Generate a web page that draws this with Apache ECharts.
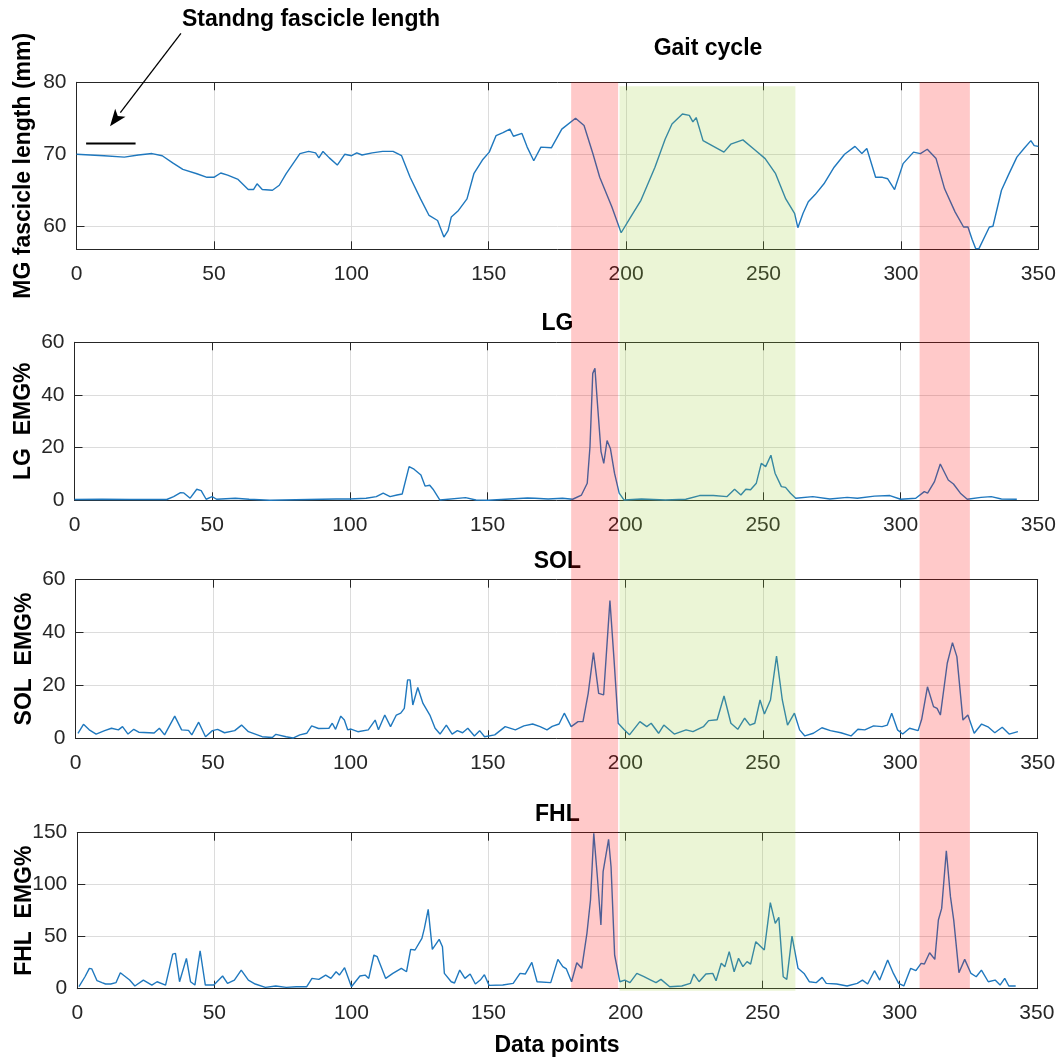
<!DOCTYPE html>
<html>
<head>
<meta charset="utf-8">
<script src="https://cdn.jsdelivr.net/npm/echarts@6/dist/echarts.min.js"></script>
<style>
html,body{margin:0;padding:0;background:#fff;}
#c{width:1061px;height:1059px;}
</style>
</head>
<body>
<div id="c"></div>
<script>
// ---------------- data ----------------
const xTicks = [0, 50, 100, 150, 200, 250, 300, 350];
const mgTicks = [60, 70, 80];
const lgTicks = [0, 20, 40, 60];
const solTicks = [0, 20, 40, 60];
const fhlTicks = [0, 50, 100, 150];

const panelTitles = ['Gait cycle', 'LG', 'SOL', 'FHL'];
const yNames = ['MG fascicle length (mm)', 'LG  EMG%', 'SOL  EMG%', 'FHL  EMG%'];
const xName = 'Data points';
const noteText = 'Standng fascicle length';

// standing fascicle length marker [x, y]
const standingLine = [[3.5, 71.5], [21.5, 71.5]];
// arrow from label to marker (data coords of panel 1)
const arrowTail = [38, 86.8];
const arrowTip = [12.2, 73.9];

// shaded phases [start, end] in data points
const redPhases = [[180, 197.1], [306.8, 325.1]];
const greenPhases = [[197.6, 261.6]];

const mg = [[0,70.0],[5,69.9],[10,69.8],[17.4,69.6],[22.5,69.9],[27.5,70.1],[31.2,69.8],[35,68.8],[38.7,67.9],[43.8,67.3],[47.5,66.8],[50,66.8],[52.5,67.4],[55,67.1],[58.8,66.5],[62.5,65.1],[64.4,65.1],[65.7,65.9],[67.6,65.1],[71.3,65.0],[73.8,65.7],[76.3,67.3],[78.8,68.7],[81.3,70.1],[84.5,70.4],[87,70.2],[88.2,69.5],[89.7,70.4],[92,69.5],[92.6,69.6],[94.9,68.5],[97.6,70.0],[100.1,69.8],[102,70.2],[103.9,69.9],[107.6,70.2],[111.4,70.4],[115.2,70.4],[118.3,69.8],[121.4,66.8],[125.2,63.8],[128.3,61.5],[131.4,60.8],[133.7,58.5],[135.2,59.4],[136.4,61.3],[139,62.2],[142.1,63.8],[144.6,67.3],[147.7,69.2],[150.2,70.3],[152.7,72.6],[155.2,73.0],[157.7,73.5],[159,72.5],[162.1,72.9],[164,71.0],[166.4,69.1],[169,71.0],[172.8,70.9],[176.6,73.5],[181.6,75.0],[184.7,74.0],[187.9,70.1],[190.4,66.8],[194.8,62.7],[198.2,59.1],[201.7,61.3],[205.4,63.6],[210.5,68.2],[214.2,72.1],[216.7,74.2],[220.5,75.6],[223,75.4],[224.3,74.5],[225.5,75.1],[228,71.9],[231.8,71.1],[235.6,70.3],[238.1,71.4],[242.5,72.0],[246.9,70.6],[250.6,69.4],[254.4,67.3],[258.1,63.8],[261.3,61.8],[262.5,59.8],[264.4,61.8],[266.3,63.4],[268.8,64.4],[272,65.9],[275.7,68.2],[279.5,70.0],[283.3,71.1],[285.8,70.1],[287.6,70.8],[290.8,66.8],[293.3,66.8],[295.2,66.6],[297.7,65.1],[300.8,68.7],[304.6,70.3],[307.1,70.1],[309.6,70.7],[312.8,69.4],[315.9,65.2],[319.7,62.0],[322.8,59.9],[324.4,59.9],[325.9,58.2],[327.2,56.9],[328.4,56.9],[332.2,59.9],[333.5,60.0],[336.6,65.0],[339.1,67.1],[342.2,69.6],[344.8,70.8],[347.3,71.9],[348.5,71.2],[350,71.1]];

const lg = [[0,0.3],[10,0.4],[20,0.3],[33.5,0.3],[36,1.4],[38.5,2.9],[39.7,2.8],[42,0.8],[44.4,4.2],[46,3.7],[47.8,0.4],[50,1.4],[51.6,0.4],[58.4,0.8],[63.4,0.4],[70.9,0],[85,0.3],[95,0.5],[100,0.5],[105.9,0.8],[109.6,1.4],[112.1,2.7],[114.6,1.4],[117.1,2],[119,2.4],[121.5,12.8],[123.3,11.8],[125.8,9.6],[127.3,5.4],[129,5.7],[130.2,4.2],[132.7,0.1],[142,1.0],[145.8,0.1],[150.2,0],[164.5,0.9],[167.2,0.8],[172,0.5],[177.2,0.8],[180.9,0.4],[184.1,2],[186.2,6.5],[187.2,20.4],[188.2,48.2],[189,50.1],[189.9,36.8],[191.2,18.5],[192.2,14],[193.4,22.7],[194.6,19.7],[196.1,10.3],[197.8,2.7],[199.6,0.1],[205.9,0.5],[214.6,0.1],[222,0.4],[227,1.8],[232,1.8],[237,1.4],[239.7,4.2],[242,2],[243.8,4.2],[245.5,4.0],[247.6,6.5],[249.4,14],[251,12.8],[252.9,17.1],[254.4,10.3],[256.7,5.2],[258.2,4.9],[260,2.7],[261.9,0.8],[268.1,1.4],[274.3,0.5],[280.6,1.1],[284.3,0.8],[290.5,1.6],[296.1,1.8],[300,0.4],[305.5,0.8],[308.6,3.3],[309.8,2.7],[312.3,7.1],[314.4,13.8],[317.3,7.7],[319.2,6.2],[321.7,2.7],[324.2,0.4],[329.2,1.1],[332.9,1.4],[336.6,0.5],[342.2,0.4]];

const sol = [[0.9,1.9],[2.9,5.3],[5,3.2],[7.5,1.6],[10.6,2.9],[13.1,3.8],[15.6,3.2],[17.1,4.4],[19.1,1.6],[21.2,3.4],[23,2.3],[26.8,2.1],[28.6,2.0],[30.5,3.8],[32.4,1.3],[36.1,8.4],[38.6,3.2],[41.1,3.0],[42.3,1.3],[44.8,6.1],[47.3,0.6],[49.8,2.9],[51.7,3.4],[54.2,2.1],[57.9,2.9],[60.4,5.0],[62.9,2.5],[67.9,0.6],[71.6,0.3],[72.9,1.5],[76.6,0.6],[79.1,0.1],[81.6,1.3],[84.1,1.9],[85.9,4.7],[88.4,3.7],[92.2,3.8],[93.4,5.7],[94.6,3.4],[96.5,8.4],[97.8,6.9],[99,3.2],[100.2,3.5],[102.7,2.5],[106.5,3.2],[109,6.9],[110.2,3.2],[112.5,8.8],[114.6,4.4],[116.7,8.8],[118.3,9.5],[119.6,11.3],[120.8,22.1],[121.7,22.1],[122.7,12.6],[124.5,19.2],[126.4,13.2],[128.9,8.8],[130.8,3.8],[132.6,1.6],[134.9,5.0],[137,1.6],[138.9,2.9],[140.8,2.1],[142.7,3.8],[145.1,0.9],[147,2.9],[148.8,0.6],[152.5,1.3],[156.3,4.4],[160,3.2],[163.1,4.7],[166.3,5.4],[169,4.4],[171.5,3.2],[173.4,4.5],[175.9,5.4],[177.8,9.5],[180.3,4.4],[182.8,6.3],[184.6,6.3],[186.5,17],[188.4,32.4],[190.3,17],[192.1,16.4],[194.4,52.1],[195.9,29.6],[197.4,5.7],[199.6,3.2],[201.5,1.3],[205.3,6.3],[207.8,4.4],[209.4,5.7],[212.1,1.9],[214,5.0],[217.8,1.6],[222.1,3.2],[224.6,2.5],[228.4,4.4],[230.3,6.7],[233.4,7.0],[235.9,16],[238.4,5.7],[240.9,3.4],[243.4,7.6],[245.3,5.0],[247.1,5.7],[249,14.5],[250.6,9.2],[252.8,14.5],[255,31.1],[257.1,14.5],[259,5.0],[261.5,9.5],[263.4,3.2],[265.3,0.9],[268.4,1.9],[271.5,4.0],[274.6,2.9],[278.4,2.1],[282.1,0.9],[284.6,3.4],[287.1,3.2],[290.3,4.7],[293.4,4.4],[295.3,5.0],[296.9,9.5],[299,3.2],[300.9,1.6],[303.4,3.8],[306.5,2.9],[307.8,7.2],[309.9,19.5],[312.1,12],[313.4,11.3],[314.6,8.8],[317.1,28.4],[319,36.2],[320.6,30.9],[322.8,6.9],[324.6,8.8],[326.9,1.9],[329.6,5.4],[332.1,4.2],[334.4,2.1],[337.1,4.2],[339.6,1.6],[342.8,2.5]];

const fhl = [[0.6,1.9],[2.8,11.5],[4.4,19.6],[5.3,19.0],[7.2,7.7],[9,5.8],[10.3,4.5],[12.2,4.5],[14.1,5.8],[15.7,15.4],[19.1,8.3],[21,2.6],[24.1,8.3],[27.2,3.5],[29.1,6.7],[32.2,3.5],[34.8,33.3],[35.8,34],[37.3,6.7],[39.8,29.2],[41.3,6.7],[42.9,3.5],[44.8,36.5],[46.7,3.5],[49.8,3.5],[53,12.2],[54.8,5.1],[57.3,8.3],[59.8,17.9],[62.4,8.3],[64.9,4.5],[68.6,1.3],[72.4,2.6],[76.2,1.3],[79.9,1.9],[83.7,1.9],[85.6,9.9],[88.1,9],[90.6,13.1],[92.5,9.9],[94.4,16.3],[95.6,13.1],[97.5,20.2],[100,1.9],[103.1,12.2],[105,13.1],[106.3,9.9],[108.2,32.4],[109.4,30.8],[112.5,9.9],[115.1,14.7],[118.2,19.6],[120.1,16.3],[121.6,37.8],[123.2,37.2],[125.7,48.4],[126.6,58],[128,76.3],[129.5,37.8],[132,47.4],[133.2,40.4],[133.9,14.7],[136.4,6.7],[137.6,5.5],[139.5,17.9],[141.4,9.9],[143.3,14.1],[145.2,4.5],[147,8.3],[148.5,13.5],[150.2,3.2],[155.2,3.5],[159,5.1],[161.5,14.7],[163.4,14.1],[165.8,25.3],[167.7,6.7],[172.7,5.8],[175.3,28.2],[177.1,21.2],[178.4,19.0],[180.3,6.7],[182.2,25],[184,19.6],[185.9,53.2],[187.2,85.3],[188.4,149.4],[189.7,107.7],[191,61.2],[191.8,112.5],[193.8,143.6],[194.7,117.3],[196,32.4],[197.9,6.7],[199.7,8.3],[201.6,5.8],[204.1,14.7],[206.7,11.5],[209.2,8.3],[211.1,5.8],[212.9,9],[216.1,1.9],[220.5,2.6],[223.6,5.1],[224.9,14.1],[226.8,6.7],[229.3,14.1],[231.8,14.7],[233,7.7],[234.9,24.4],[236.2,21.0],[237.8,35.6],[239.6,16.3],[241.2,29.2],[242.8,21.2],[244.3,26.0],[245.6,23.7],[247.5,45.2],[250.6,37.2],[252.8,82.7],[254.6,62.8],[255.9,68.6],[257.5,11.5],[258.8,9],[260.7,50.6],[262.9,19.6],[265.1,14.7],[267,6.7],[269.5,5.8],[271.7,10.9],[273.2,5.1],[277,4.5],[280.8,2.6],[284.5,5.1],[286.4,8.3],[288.3,4.5],[290.8,17.3],[292.7,8.3],[295.6,27.6],[297.7,14.7],[299.6,5.1],[301.5,2.6],[304,19.6],[305.9,17.3],[307.8,24.4],[309,23.8],[310.9,34.6],[312.8,28.2],[314.1,66],[315.3,77.2],[317,132.7],[318.5,88.5],[319.7,66],[321.6,15.4],[323.7,28.2],[326,14.7],[327.9,11.5],[329.8,17.9],[332.3,6.7],[334.8,8.3],[336.6,3.5],[338.3,9.9],[339.8,2.6],[342.3,2.6]];

const seriesData = [mg, lg, sol, fhl];
const yRanges = [[56.8, 80], [0, 60], [0, 60], [0, 150]];
const yTicksList = [mgTicks, lgTicks, solTicks, fhlTicks];

// ---------------- layout / style ----------------
const FONT = '"Liberation Sans", Arial, Helvetica, sans-serif';
const grids = [
  {left: 76.5, right: 22.7, top: 82.3, height: 167},
  {left: 74.5, right: 22.7, top: 342.3, height: 158},
  {left: 75.5, right: 23.3, top: 579.7, height: 158.6},
  {left: 77.3, right: 24.2, top: 832.7, height: 156}
];
const yNameGaps = [41, 39, 39, 41];
const axisColor = '#262626';
const gridColor = '#dcdcdc';
const lineColor = '#1f78be';

const xAxes = [], yAxes = [], series = [];
grids.forEach((g, i) => {
  const common = {
    type: 'value', gridIndex: i, min: xTicks[0], max: xTicks[xTicks.length - 1], interval: 50,
    axisLine: {show: true, onZero: false, lineStyle: {color: axisColor, width: 1}},
    axisTick: {show: true, inside: true, length: 8, lineStyle: {color: axisColor, width: 1}}
  };
  xAxes.push(Object.assign({}, common, {
    position: 'bottom',
    axisLabel: {show: true, margin: 14, color: axisColor, fontSize: 21, fontFamily: FONT},
    splitLine: {show: true, lineStyle: {color: gridColor, width: 1}},
    name: i === 3 ? xName : '', nameLocation: 'middle', nameGap: 45, nameMoveOverlap: false,
    nameTextStyle: {color: '#000', fontSize: 23, fontWeight: 'bold', fontFamily: FONT}
  }));
  xAxes.push(Object.assign({}, common, {
    position: 'top', axisLabel: {show: false}, splitLine: {show: false}
  }));
  const ticks = yTicksList[i];
  const ycommon = {
    type: 'value', gridIndex: i, min: yRanges[i][0], max: yRanges[i][1],
    axisLine: {show: true, onZero: false, lineStyle: {color: axisColor, width: 1}},
    axisTick: {show: true, inside: true, length: 8, customValues: ticks, lineStyle: {color: axisColor, width: 1}}
  };
  yAxes.push(Object.assign({}, ycommon, {
    position: 'left',
    axisLabel: {show: true, margin: 10, customValues: ticks, color: axisColor, fontSize: 21, fontFamily: FONT},
    splitLine: {show: true, lineStyle: {color: gridColor, width: 1}},
    name: yNames[i], nameLocation: 'middle', nameGap: yNameGaps[i], nameMoveOverlap: false,
    nameTextStyle: {color: '#000', fontSize: 23, fontWeight: 'bold', fontFamily: FONT}
  }));
  yAxes.push(Object.assign({}, ycommon, {
    position: 'right', axisLabel: {show: false, customValues: ticks}, splitLine: {show: false}
  }));
  series.push({
    type: 'line', xAxisIndex: 2 * i, yAxisIndex: 2 * i, data: seriesData[i],
    showSymbol: false, symbol: 'none', smooth: false,
    lineStyle: {color: lineColor, width: 1.4}, z: 3
  });
});
series.push({
  type: 'line', xAxisIndex: 0, yAxisIndex: 0, data: standingLine, showSymbol: false, symbol: 'none',
  lineStyle: {color: '#000', width: 2.2}, z: 4
});

const chart = echarts.init(document.getElementById('c'), null, {renderer: 'canvas'});
chart.setOption({
  animation: false,
  backgroundColor: '#fff',
  grid: grids.map(g => Object.assign({containLabel: false, outerBoundsMode: 'none'}, g)),
  xAxis: xAxes,
  yAxis: yAxes,
  series: series
});

// ---------------- overlays and annotations (positioned via the chart's scales) ----------------
const px = (gi, pt) => chart.convertToPixel({gridIndex: gi}, pt);
const topY = px(0, [0, yRanges[0][1]])[1];
const botY = px(3, [0, yRanges[3][0]])[1];
const graphics = [];
redPhases.forEach(r => {
  const x0 = px(0, [r[0], 70])[0], x1 = px(0, [r[1], 70])[0];
  graphics.push({type: 'rect', z: 100, silent: true,
    shape: {x: x0, y: topY, width: x1 - x0, height: botY - topY},
    style: {fill: 'rgba(255,0,0,0.21)'}});
});
greenPhases.forEach(r => {
  const x0 = px(0, [r[0], 70])[0], x1 = px(0, [r[1], 70])[0];
  graphics.push({type: 'rect', z: 100, silent: true,
    shape: {x: x0, y: topY + 4, width: x1 - x0, height: botY - topY - 2},
    style: {fill: 'rgba(154,205,50,0.2)'}});
});
// titles
const titleFont = 'bold 23px ' + FONT;
const centerX = (px(0, [0, 70])[0] + px(0, [350, 70])[0]) / 2;
const titlePos = [[708, 49], [centerX, 324], [centerX, 562], [centerX, 815]];
panelTitles.forEach((t, i) => {
  graphics.push({type: 'text', z: 50, x: titlePos[i][0], y: titlePos[i][1],
    style: {text: t, font: titleFont, fill: '#000', align: 'center', verticalAlign: 'middle',
            textAlign: 'center', textVerticalAlign: 'middle'}});
});
graphics.push({type: 'text', z: 50, x: 182, y: 20,
  style: {text: noteText, font: titleFont, fill: '#000', align: 'left', verticalAlign: 'middle',
          textAlign: 'left', textVerticalAlign: 'middle'}});
// arrow
const tail = px(0, arrowTail), tip = px(0, arrowTip);
const dx = tip[0] - tail[0], dy = tip[1] - tail[1];
const len = Math.sqrt(dx * dx + dy * dy);
const ux = dx / len, uy = dy / len;
const headL = 17, headW = 6.5;
const bx = tip[0] - ux * headL, by = tip[1] - uy * headL;
graphics.push({type: 'line', z: 50, shape: {x1: tail[0], y1: tail[1], x2: bx, y2: by},
  style: {stroke: '#000', lineWidth: 1.3}});
graphics.push({type: 'polygon', z: 50, shape: {points: [
  [tip[0], tip[1]],
  [bx - uy * headW, by + ux * headW],
  [tip[0] - ux * headL * 0.75, tip[1] - uy * headL * 0.75],
  [bx + uy * headW, by - ux * headW]
]}, style: {fill: '#000'}});
chart.setOption({graphic: graphics});
</script>
</body>
</html>
